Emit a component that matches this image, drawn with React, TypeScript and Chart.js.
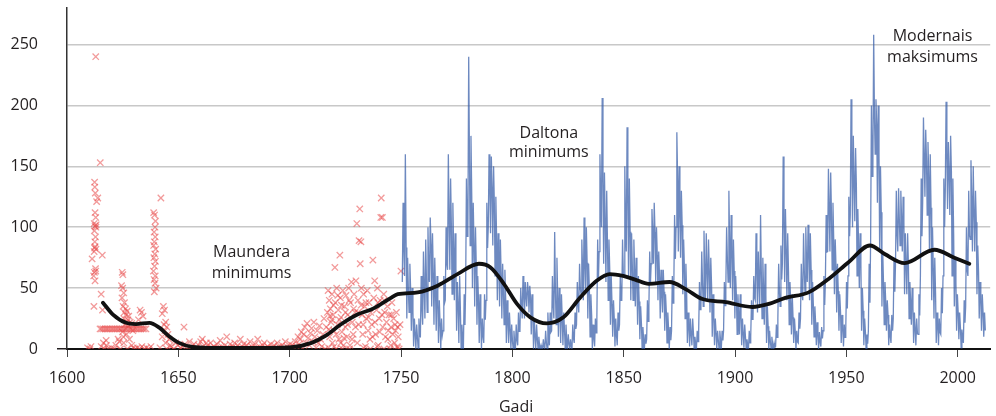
import React, { useEffect, useRef } from "react";
import { Chart, registerables } from "chart.js";

Chart.register(...registerables);

const FONT_FAMILY = '"Open Sans", "DejaVu Sans", sans-serif';
const TEXT_COLOR = "#231f20";

// ---- axes as printed ----
const axisYearMin = 1600;
const axisYearMax = 2014.6;
const axisYearStep = 50;
const valueMin = 0;
const valueMax = 280;
const valueStep = 50;
const xAxisTitle = "Gadi";

// ---- observation-year axis (the plotted record sits slightly stretched against the printed labels) ----
const dataYearMin = 1600.9;
const dataYearMax = 2008.95;

// ---- blue: monthly sunspot numbers per year: lowest month, highest month, yearly mean ----
const blueFirstYear = 1749;
const blueMonthlyHigh = [
  120,
  160, 75, 70, 50, 25, 20, 25, 60, 80, 90,
  100, 108, 95, 75, 60, 40, 25, 60, 100, 160,
  140, 120, 95, 55, 60, 20, 45, 140, 240, 175,
  120, 100, 60, 45, 25, 45, 120, 160, 158, 150,
  125, 95, 90, 70, 65, 40, 30, 20, 15, 20,
  30, 50, 60, 55, 55, 52, 45, 25, 20, 10,
  3, 8, 15, 30, 30, 60, 96, 75, 50, 45,
  30, 20, 12, 8, 20, 30, 55, 70, 90, 108,
  100, 70, 45, 20, 25, 90, 160, 206, 145, 130,
  90, 60, 40, 25, 30, 60, 90, 150, 182, 140,
  95, 90, 75, 60, 35, 18, 12, 40, 80, 115,
  120, 100, 80, 65, 65, 45, 30, 18, 60, 110,
  178, 150, 130, 90, 70, 30, 25, 25, 10, 15,
  55, 80, 97, 95, 90, 75, 45, 25, 15, 15,
  15, 55, 100, 130, 110, 90, 60, 45, 45, 25,
  20, 8, 15, 40, 60, 95, 80, 110, 75, 70,
  35, 15, 10, 5, 20, 70, 85, 158, 115, 95,
  55, 45, 25, 15, 30, 70, 95, 100, 102, 95,
  55, 35, 22, 14, 18, 60, 110, 148, 145, 120,
  90, 70, 45, 28, 20, 55, 125, 205, 175, 165,
  115, 95, 50, 25, 12, 70, 200, 258, 205, 200,
  150, 80, 55, 40, 20, 28, 75, 130, 132, 130,
  125, 95, 95, 55, 50, 30, 25, 45, 140, 190,
  180, 170, 160, 100, 75, 30, 25, 50, 140, 203,
  170, 175, 140, 75, 45, 30, 16, 40, 100, 130,
  155, 150, 130, 85, 55, 45, 30,
];
const blueMonthlyLow = [
  55,
  60, 25, 30, 15, 2, 0, 0, 10, 20, 25,
  30, 55, 35, 20, 15, 5, 0, 15, 40, 65,
  65, 45, 40, 15, 5, 0, 0, 50, 100, 85,
  50, 35, 20, 5, 0, 5, 40, 100, 95, 85,
  60, 40, 35, 25, 20, 5, 5, 0, 0, 0,
  3, 15, 25, 25, 35, 30, 12, 0, 0, 0,
  0, 0, 0, 0, 3, 15, 25, 20, 10, 5,
  3, 0, 0, 0, 0, 5, 20, 30, 45, 40,
  45, 25, 10, 0, 2, 25, 80, 100, 70, 55,
  40, 20, 10, 2, 3, 20, 40, 60, 80, 60,
  40, 40, 35, 20, 8, 0, 0, 8, 35, 70,
  70, 55, 40, 25, 30, 15, 5, 0, 15, 50,
  100, 80, 75, 45, 25, 5, 2, 3, 0, 0,
  15, 35, 35, 40, 40, 30, 10, 3, 0, 0,
  0, 15, 50, 55, 50, 40, 25, 12, 12, 3,
  1, 0, 0, 10, 25, 40, 30, 35, 25, 20,
  5, 0, 0, 0, 2, 25, 35, 70, 55, 40,
  20, 12, 5, 0, 5, 25, 40, 45, 55, 40,
  20, 10, 3, 0, 2, 15, 55, 80, 80, 65,
  45, 30, 15, 5, 2, 15, 60, 110, 100, 105,
  60, 50, 15, 3, 0, 15, 90, 150, 160, 120,
  80, 35, 20, 15, 3, 5, 25, 70, 80, 85,
  80, 45, 45, 25, 20, 5, 3, 12, 60, 120,
  125, 110, 80, 40, 25, 5, 3, 12, 60, 130,
  115, 110, 60, 35, 15, 8, 1, 5, 35, 60,
  90, 80, 80, 45, 25, 15, 10,
];
const blueYearlyMean = [
  80.9,
  83.4, 47.7, 47.8, 30.7, 12.2, 9.6, 10.2, 32.4, 47.6, 54.0,
  62.9, 85.9, 61.2, 45.1, 36.4, 20.9, 11.4, 37.8, 69.8, 106.1,
  100.8, 81.6, 66.5, 34.8, 30.6, 7.0, 19.8, 92.5, 154.4, 125.9,
  84.8, 68.1, 38.5, 22.8, 10.2, 24.1, 82.9, 132.0, 130.9, 118.1,
  89.9, 66.6, 60.0, 46.9, 41.0, 21.3, 16.0, 6.4, 4.1, 6.8,
  14.5, 34.0, 45.0, 43.1, 47.5, 42.2, 28.1, 10.1, 8.1, 2.5,
  0.0, 1.4, 5.0, 12.2, 13.9, 35.4, 45.8, 41.0, 30.1, 23.9,
  15.6, 6.6, 4.0, 1.8, 8.5, 16.6, 36.3, 49.6, 64.2, 67.0,
  70.9, 47.8, 27.5, 8.5, 13.2, 56.9, 121.5, 138.3, 103.2, 85.7,
  64.6, 36.7, 24.2, 10.7, 15.0, 40.1, 61.5, 98.5, 124.7, 96.3,
  66.6, 64.5, 54.1, 39.0, 20.6, 6.7, 4.3, 22.7, 54.8, 93.8,
  95.8, 77.2, 59.1, 44.0, 47.0, 30.5, 16.3, 7.3, 37.6, 74.0,
  139.0, 111.2, 101.6, 66.2, 44.7, 17.0, 11.3, 12.4, 3.4, 6.0,
  32.3, 54.3, 59.7, 63.7, 63.5, 52.2, 25.4, 13.1, 6.8, 6.3,
  7.1, 35.6, 73.0, 85.1, 78.0, 64.0, 41.8, 26.2, 26.7, 12.1,
  9.5, 2.7, 5.0, 24.4, 42.0, 63.5, 53.8, 62.0, 48.5, 43.9,
  18.6, 5.7, 3.6, 1.4, 9.6, 47.4, 57.1, 103.9, 80.6, 63.6,
  37.6, 26.1, 14.2, 5.8, 16.7, 44.3, 63.9, 69.0, 77.8, 64.9,
  35.7, 21.2, 11.1, 5.7, 8.7, 36.1, 79.7, 114.4, 109.6, 88.8,
  67.8, 47.5, 30.6, 16.3, 9.6, 33.2, 92.6, 151.6, 136.3, 134.7,
  83.9, 69.4, 31.5, 13.9, 4.4, 38.0, 141.7, 190.2, 184.8, 159.0,
  112.3, 53.9, 37.6, 27.9, 10.2, 15.1, 47.0, 93.8, 105.9, 105.5,
  104.5, 66.6, 68.9, 38.0, 34.5, 15.5, 12.6, 27.5, 92.5, 155.4,
  154.6, 140.4, 115.9, 66.6, 45.9, 17.9, 13.4, 29.4, 100.2, 157.6,
  142.6, 145.7, 94.3, 54.6, 29.9, 17.5, 8.6, 21.5, 64.3, 93.3,
  119.6, 111.0, 104.0, 63.7, 40.4, 29.8, 15.2,
];

// ---- red: early telescopic observations, [year, value] ----
const redObservations: [number, number][] = [
  [1610.0, 1], [1611.0, 0], [1611.5, 2], [1613.6, 240], [1615.6, 153], [1613.1, 137], [1613.2, 133], [1613.4, 128],
  [1614.0, 121], [1614.5, 124], [1613.3, 112], [1613.6, 108], [1612.9, 103], [1613.3, 101], [1613.7, 100], [1613.0, 97],
  [1613.5, 92], [1613.2, 88], [1613.3, 84], [1613.7, 82], [1612.9, 80], [1612.0, 74], [1616.5, 77], [1613.5, 66],
  [1613.0, 63], [1612.7, 60], [1613.3, 56], [1616.0, 45], [1612.8, 35], [1616.6, 32], [1616.0, 2], [1617.0, 5],
  [1618.2, 7], [1617.5, 0], [1613.8, 102], [1613.1, 83], [1613.6, 64],
  [1615.5, 16.5], [1616.2, 16.5], [1617.0, 16.5], [1617.8, 16.5], [1618.5, 16.5], [1619.2, 16.5], [1620.0, 16.5],
  [1620.8, 16.5], [1621.5, 16.5], [1622.3, 16.5], [1623.0, 16.5], [1623.8, 16.5], [1624.5, 16.5], [1625.3, 16.5],
  [1626.0, 16.5], [1626.8, 16.5], [1627.5, 16.5], [1628.3, 16.5], [1629.0, 16.5], [1629.8, 16.5], [1630.5, 16.5],
  [1631.3, 16.5], [1632.0, 16.5], [1632.8, 16.5], [1633.5, 16.5], [1634.3, 16.5], [1635.0, 16.5], [1635.8, 16.5],
  [1619.0, 0], [1620.5, 1], [1621.8, 0], [1622.5, 3], [1623.5, 8], [1618.3, 3],
  [1625.3, 63], [1625.6, 61], [1625.0, 52], [1625.5, 50], [1626.0, 46], [1625.2, 42], [1626.3, 38], [1625.7, 35],
  [1626.8, 33], [1627.5, 31], [1627.0, 28], [1628.2, 27], [1626.0, 25], [1627.8, 24], [1628.8, 22], [1629.5, 21],
  [1626.5, 20], [1628.0, 19], [1630.0, 15], [1627.2, 12], [1625.8, 10], [1628.5, 8], [1624.0, 6], [1626.0, 5],
  [1629.5, 3], [1624.5, 0], [1627.5, 0], [1630.2, 1], [1626.2, 30], [1627.3, 22], [1625.4, 14],
  [1633.2, 32], [1633.8, 30], [1634.5, 27], [1632.5, 24],
  [1631.0, 0], [1632.0, 1], [1633.0, 0], [1634.0, 2], [1635.0, 0], [1636.0, 1], [1637.0, 0], [1638.0, 2],
  [1642.4, 124], [1639.2, 112], [1639.6, 110], [1640.0, 105], [1639.8, 100], [1639.4, 96], [1639.9, 92], [1639.5, 88],
  [1639.2, 85], [1640.1, 82], [1639.7, 78], [1639.3, 75], [1640.0, 72], [1639.6, 68], [1639.1, 64], [1639.9, 60],
  [1639.4, 57], [1639.8, 54], [1640.3, 50], [1639.5, 47],
  [1643.5, 35], [1644.0, 32], [1643.0, 29], [1644.5, 22], [1643.8, 20], [1645.0, 18], [1644.2, 15], [1645.5, 12],
  [1643.0, 10], [1646.0, 8], [1644.5, 5], [1646.5, 3], [1642.0, 1], [1645.0, 0], [1647.0, 2], [1648.0, 0],
  [1649, 5], [1650, 3], [1651, 1], [1652, 2], [1652.6, 18], [1653, 4], [1654, 0], [1655, 6], [1656, 2], [1657, 4],
  [1658, 1], [1659, 3], [1660, 6], [1660.7, 8], [1661, 2], [1662, 0], [1662.5, 5],
  [1663, 3], [1663.7, 0], [1664.4, 5], [1665, 1], [1665.8, 2], [1666.5, 0], [1667.2, 4], [1668, 1], [1668.6, 7],
  [1669.3, 2], [1670, 0], [1670.7, 3], [1671.5, 10], [1672.2, 1], [1673, 4], [1673.6, 0], [1674.3, 2], [1675, 5],
  [1675.7, 1], [1676.4, 3], [1677.1, 0], [1677.5, 8], [1678.3, 2], [1679, 4], [1679.7, 0], [1680.4, 3], [1681.1, 1],
  [1681.8, 6], [1682.5, 2], [1683.2, 0], [1684, 4], [1684.7, 1], [1685.2, 8], [1686, 2], [1686.7, 0], [1687.4, 3],
  [1688.1, 5], [1688.8, 1], [1689.5, 2], [1690.2, 0], [1691, 4], [1691.7, 1], [1692.4, 3], [1693.1, 0], [1693.8, 5],
  [1694.5, 2], [1695.2, 0], [1696, 3], [1696.7, 1], [1697.4, 6], [1698.1, 2], [1698.8, 0], [1699.5, 4],
  [1700, 0], [1700.6, 3], [1701.2, 1], [1701.8, 6], [1702.4, 2], [1703, 10], [1703.5, 4], [1704, 8], [1704.5, 14],
  [1705, 0], [1705.5, 12], [1706, 18], [1706.5, 5], [1707, 21], [1707.5, 9], [1708, 3], [1708.5, 13], [1709, 17],
  [1709.5, 6], [1710, 22], [1710.5, 10], [1711, 1], [1711.5, 15], [1712, 5], [1712.5, 19], [1713, 8], [1713.5, 2],
  [1714, 12], [1714.5, 25], [1715, 0], [1715.5, 18], [1716, 30],
  [1716.3, 48], [1716.8, 40], [1717, 10], [1717.3, 33], [1717.6, 22], [1718, 45], [1718.2, 5], [1718.5, 28],
  [1718.9, 15], [1719.3, 67], [1719.5, 38], [1719.8, 0], [1720.1, 50], [1720.4, 20], [1720.8, 32], [1721.1, 8],
  [1721.5, 77], [1721.7, 42], [1722, 26], [1722.4, 14], [1722.8, 48], [1723.1, 3], [1723.5, 35], [1723.9, 18],
  [1724.2, 44], [1724.6, 10], [1725, 28], [1725.4, 50], [1725.8, 0], [1726.2, 38], [1726.6, 55], [1727, 22],
  [1727.4, 12], [1727.8, 45], [1728.2, 30], [1728.6, 56],
  [1717.1, 27], [1718.7, 36], [1719.9, 12], [1720.6, 44], [1721.3, 24], [1722.2, 36], [1723.3, 9], [1724.0, 30],
  [1724.9, 20], [1725.6, 40], [1726.9, 8], [1727.6, 33], [1728.4, 18], [1716.6, 16], [1718.0, 24], [1721.9, 5],
  [1729, 103], [1729.2, 5], [1729.5, 40], [1729.8, 20], [1730, 89], [1730.3, 115], [1730.5, 70], [1730.8, 88],
  [1731, 50], [1731.3, 28], [1731.6, 12], [1732, 45], [1732.4, 35], [1732.8, 2], [1733.2, 25], [1733.6, 48],
  [1734, 15], [1734.4, 38], [1734.8, 8], [1735.2, 30], [1735.6, 20], [1736.1, 73], [1736.5, 42], [1736.9, 56],
  [1737.3, 12], [1737.7, 32], [1738.1, 50], [1738.5, 3], [1738.9, 25], [1739.3, 40], [1739.6, 108], [1739.8, 124],
  [1740.3, 108], [1740.5, 18], [1740.9, 45], [1741.3, 30], [1741.7, 10], [1742.1, 22], [1742.5, 35], [1742.9, 15],
  [1743.3, 28], [1743.7, 0], [1744.1, 18], [1744.5, 38], [1744.9, 12], [1745.3, 25], [1745.7, 5], [1746.1, 15],
  [1746.5, 30], [1746.9, 2], [1747.3, 10], [1747.7, 0], [1748.1, 20], [1748.5, 64],
  [1729.6, 30], [1730.9, 36], [1731.8, 20], [1733.0, 38], [1734.2, 26], [1735.9, 10], [1737.0, 22], [1738.3, 38],
  [1739.1, 14], [1740.1, 28], [1741.1, 40], [1742.7, 8], [1744.3, 28], [1745.9, 20], [1747.1, 18],
  [1716.5, 1], [1719, 2], [1722.6, 0], [1726, 3], [1731.9, 1], [1735, 0], [1738, 2], [1741, 0], [1744, 3], [1747, 1],
];

// ---- black: smoothed average ----
const smoothYears = [
  1616.8, 1621.1, 1627.0, 1631.4, 1637.3, 1641.7, 1646.0, 1650.4, 1656.3, 1663.6,
  1672, 1680, 1690, 1700.2, 1709.0, 1714.9, 1722.2, 1729.5, 1735.4, 1739.8,
  1744.1, 1747.1, 1755.9, 1764.7, 1773.5, 1783.0, 1788.1, 1794.0, 1799.8, 1805.7,
  1813.0, 1820.3, 1827.6, 1835.0, 1840.8, 1846.7, 1852, 1858, 1867.2, 1874.5,
  1881.8, 1892.1, 1903.8, 1911.1, 1918.4, 1928.7, 1937.5, 1946.2, 1955.8, 1962.3,
  1971.1, 1984.3, 1993.1, 1999.7,
];
const smoothValues = [
  38, 28.5, 21.5, 20.5, 21.5, 17.5, 10.5, 5, 1.7, 1,
  1, 1, 1, 1.5, 5, 10.5, 20.5, 28.5, 32.5, 37,
  42, 45, 46.5, 52, 61.5, 70, 67, 53.5, 37, 26,
  21, 26, 42, 56, 61.5, 60, 57, 53.5, 55, 49,
  41, 38.5, 34.5, 37, 42, 46.5, 57.5, 71, 85, 78,
  70.5, 81.5, 75, 70,
];

// ---- annotations (printed-year, value of each text baseline) ----
const noteLines = [["Maundera", "minimums"], ["Daltona", "minimums"], ["Modernais", "maksimums"]];
const noteYears = [1682.9, 1816.4, 1988.7];
const noteBaselines = [[75.8, 58.1], [173.1, 158.0], [252.5, 236.0]];
const titleYear = 1801.7;

export default function App() {
  const canvasRef = useRef<HTMLCanvasElement | null>(null);

  useEffect(() => {
    const canvas = canvasRef.current;
    if (!canvas) return;

    const bluePoints: { x: number; y: number }[] = [];
    blueMonthlyHigh.forEach((hi, i) => {
      const yr = blueFirstYear + i;
      bluePoints.push({ x: yr + 0.1, y: blueMonthlyLow[i] });
      bluePoints.push({ x: yr + 0.45, y: hi });
      bluePoints.push({ x: yr + 0.8, y: blueYearlyMean[i] });
    });
    const redPoints = redObservations.map(([x, y]) => ({ x, y }));
    const smoothPoints = smoothYears.map((x, i) => ({ x, y: smoothValues[i] }));

    const notesPlugin = {
      id: "notes",
      afterDatasetsDraw(chart: any) {
        const { ctx, scales, chartArea } = chart;
        ctx.save();
        ctx.font = `16px ${FONT_FAMILY}`;
        ctx.fillStyle = TEXT_COLOR;
        ctx.textAlign = "center";
        ctx.textBaseline = "alphabetic";
        noteLines.forEach((lines, i) => {
          const px = scales.x.getPixelForValue(noteYears[i]);
          lines.forEach((t, j) => {
            ctx.fillText(t, px, scales.y.getPixelForValue(noteBaselines[i][j]));
          });
        });
        ctx.fillText(xAxisTitle, scales.x.getPixelForValue(titleYear), chartArea.bottom + 62.7);
        ctx.restore();
      },
    };

    const tickFont = { family: FONT_FAMILY, size: 16 };

    const chart = new Chart(canvas, {
      type: "scatter",
      data: {
        datasets: [
          {
            label: "smoothed",
            data: smoothPoints,
            xAxisID: "xd",
            showLine: true,
            pointRadius: 0,
            borderColor: "#111111",
            borderWidth: 3.8,
            cubicInterpolationMode: "monotone",
            borderCapStyle: "round",
            order: 0,
          } as any,
          {
            label: "monthly",
            data: bluePoints,
            xAxisID: "xd",
            showLine: true,
            pointRadius: 0,
            borderColor: "rgba(52, 92, 168, 0.72)",
            borderWidth: 1.3,
            tension: 0,
            order: 1,
          } as any,
          {
            label: "early",
            data: redPoints,
            xAxisID: "xd",
            showLine: false,
            pointStyle: "crossRot",
            pointRadius: 4.5,
            borderColor: "rgba(232, 72, 72, 0.55)",
            backgroundColor: "rgba(232, 72, 72, 0.55)",
            borderWidth: 1.3,
            order: 2,
          } as any,
        ],
      },
      options: {
        responsive: false,
        animation: false,
        events: [],
        layout: { padding: { top: 8, right: 0, bottom: 0, left: 0 } },
        plugins: { legend: { display: false }, tooltip: { enabled: false } },
        scales: {
          x: {
            type: "linear",
            position: "bottom",
            min: axisYearMin,
            max: axisYearMax,
            afterFit: (s: any) => {
              s.height = 67;
              s.paddingLeft = 0;
              s.paddingRight = 0;
            },
            border: { display: true, color: "#111111", width: 2 },
            grid: { drawOnChartArea: false, drawTicks: true, tickLength: 8, color: "#444444", lineWidth: 1 },
            ticks: {
              stepSize: axisYearStep,
              includeBounds: false,
              autoSkip: false,
              maxRotation: 0,
              padding: 12,
              color: TEXT_COLOR,
              font: tickFont,
              callback: (v: any) => String(v),
            },
          },
          xd: {
            type: "linear",
            display: false,
            min: dataYearMin,
            max: dataYearMax,
          },
          y: {
            type: "linear",
            position: "left",
            min: valueMin,
            max: valueMax,
            afterFit: (s: any) => {
              s.width = 67;
              s.paddingTop = 0;
              s.paddingBottom = 0;
            },
            border: { display: true, color: "#333333", width: 1.5 },
            grid: {
              color: (c: any) => (c.tick && c.tick.value === 0 ? "rgba(0,0,0,0)" : "#c8c8c8"),
              tickColor: (c: any) => (c.tick && c.tick.value === 0 ? TEXT_COLOR : "rgba(0,0,0,0)"),
              lineWidth: 1.5,
              drawTicks: true,
              tickLength: 10,
            },
            ticks: {
              stepSize: valueStep,
              includeBounds: false,
              padding: 19,
              color: TEXT_COLOR,
              font: tickFont,
              callback: (v: any) => String(v),
            },
          },
        } as any,
      },
      plugins: [notesPlugin],
    });

    return () => chart.destroy();
  }, []);

  return (
    <div style={{ position: "fixed", left: 0, top: 0, width: 996, height: 416, background: "#ffffff" }}>
      <canvas ref={canvasRef} width={996} height={416} style={{ display: "block" }} />
    </div>
  );
}
